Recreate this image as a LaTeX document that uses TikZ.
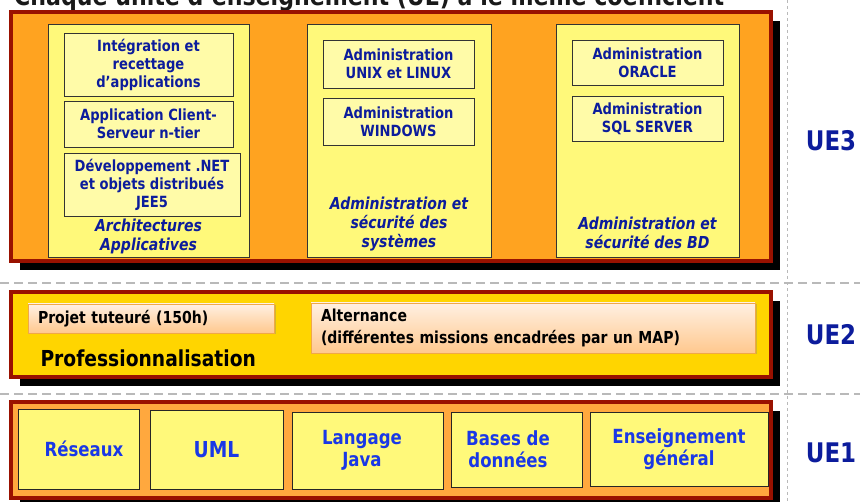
\documentclass[tikz,border=0pt]{standalone}
\usepackage{fontspec}
\setmainfont{DejaVu Sans}[FakeStretch=0.85]
\usetikzlibrary{shadows}
\definecolor{uered}{HTML}{991100}
\definecolor{ueorange}{HTML}{FFA320}
\definecolor{uegold}{HTML}{FFD500}
\definecolor{uelight}{HTML}{FFA83E}
\definecolor{colyellow}{HTML}{FFF97A}
\definecolor{modyellow}{HTML}{FFFBA8}
\definecolor{navy}{HTML}{0C1C9C}
\definecolor{royal}{HTML}{1A38E6}
\definecolor{peachtop}{HTML}{FFF0E2}
\definecolor{peachbot}{HTML}{FFC88E}
\definecolor{peachline}{HTML}{F0A848}
\begin{document}
\begin{tikzpicture}
		[x=1pt,y=-1pt,
		block/.style={draw=uered,line width=4pt,minimum width=760pt,
			drop shadow={shadow xshift=9pt,shadow yshift=-9pt,fill=black,opacity=1}},
		column/.style={draw=black!80,fill=colyellow,line width=0.8pt},
		module/.style={draw=black!80,fill=modyellow,line width=0.8pt,align=center,
			text=navy,font=\bfseries\fontsize{15.4}{18}\selectfont},
		colnote/.style={align=center,text=navy,font=\bfseries\itshape\fontsize{16.5}{19}\selectfont},
		pro/.style={draw=peachline,line width=0.6pt,top color=peachtop,bottom color=peachbot,
			inner xsep=10pt,align=left,font=\bfseries\fontsize{16.5}{22}\selectfont,
			drop shadow={shadow xshift=1.5pt,shadow yshift=-1.5pt,opacity=0.35}},
		base/.style={draw=black!85,fill=colyellow,line width=0.8pt,align=center,
			text=royal,font=\bfseries\fontsize{19.5}{22}\selectfont},
		uelabel/.style={text=navy,font=\bfseries\fontsize{27}{30}\selectfont},
		sep/.style={gray!55,line width=1.2pt,dash pattern=on 9pt off 5pt}]
		\clip (0,0) rectangle (860,502);
		% separateurs
		\draw[sep] (0,283) -- (860,283);
		\draw[sep] (0,394) -- (860,394);
		\draw[gray!55,line width=0.8pt,dash pattern=on 3pt off 3pt] (787,0) -- (787,502);
		% titre (coupe en haut)
		\node[anchor=base west,inner sep=0pt,text=black!90,
			font=\bfseries\fontsize{26}{28}\selectfont,name=titre] at (14,6)
			{Chaque unité d’enseignement (UE) a le même coefficient};
		% UE3
		\node[block,fill=ueorange,minimum height=249pt,name=ue3] at (391,136.5) {};
		\node[column,minimum width=201pt,minimum height=233pt,name=colA] at (148.5,140.5) {};
		\node[column,minimum width=184pt,minimum height=233pt,name=colB] at (399,140.5) {};
		\node[column,minimum width=183pt,minimum height=233pt,name=colC] at (647.5,140.5) {};
		\node[module,minimum width=169pt,minimum height=63pt,name=a1] at (148.5,64.5) {Intégration et\\recettage\\d’applications};
		\node[module,minimum width=169pt,minimum height=46pt,name=a2] at (148.5,124) {Application Client-\\Serveur n-tier};
		\node[module,minimum width=176pt,minimum height=63pt,name=a3] at (152,184.5) {Développement .NET\\et objets distribués\\JEE5};
		\node[colnote,name=labA] at (148.5,236) {Architectures\\Applicatives};
		\node[module,minimum width=151pt,minimum height=48pt,name=b1] at (398.5,64) {Administration\\UNIX et LINUX};
		\node[module,minimum width=151pt,minimum height=47pt,name=b2] at (398.5,121.5) {Administration\\WINDOWS};
		\node[colnote,name=labB] at (399,224) {Administration et\\sécurité des\\systèmes};
		\node[module,minimum width=151pt,minimum height=45pt,name=c1] at (647.5,62.5) {Administration\\ORACLE};
		\node[module,minimum width=151pt,minimum height=45pt,name=c2] at (647.5,118.5) {Administration\\SQL SERVER};
		\node[colnote,name=labC] at (647.5,233) {Administration et\\sécurité des BD};
		% UE2
		\node[block,fill=uegold,minimum height=85pt,name=ue2] at (391,334.5) {};
		\node[pro,text width=226pt,minimum height=29pt,name=projet] at (151,318.5) {Projet tuteuré (150h)};
		\node[pro,text width=424pt,minimum height=50pt,name=alternance] at (533,328)
			{Alternance\\(différentes missions encadrées par un MAP)};
		\node[anchor=west,font=\bfseries\fontsize{22}{24}\selectfont,name=profession] at (37,358) {Professionnalisation};
		% UE1
		\node[block,fill=uelight,minimum height=96pt,name=ue1] at (391,450) {};
		\node[base,minimum width=121pt,minimum height=80pt,name=reseaux] at (78.5,449) {\hspace*{11pt}Réseaux};
		\node[base,minimum width=133pt,minimum height=79pt,font=\bfseries\fontsize{22}{24}\selectfont,name=uml] at (216.5,449.5) {UML};
		\node[base,minimum width=151pt,minimum height=77pt,name=java] at (367.5,450.5) {Langage\hspace*{11pt}\\Java\hspace*{11pt}};
		\node[base,minimum width=131pt,minimum height=75pt,name=bd] at (516.5,449.5) {Bases de\hspace*{17pt}\\données\hspace*{17pt}};
		\node[base,minimum width=178pt,minimum height=74pt,name=general] at (679,449) {Enseignement\\général};
		% libelles
		\node[uelabel,name=u3] at (831,141) {UE3};
		\node[uelabel,name=u2] at (831,335) {UE2};
		\node[uelabel,name=u1] at (831,453) {UE1};
	\end{tikzpicture}
\end{document}
